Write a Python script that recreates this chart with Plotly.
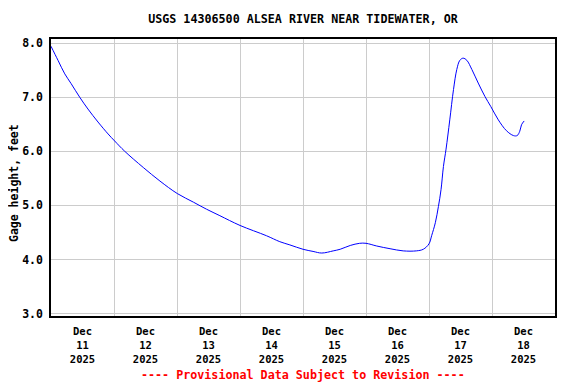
import plotly.graph_objects as go

# ---- data ----
times = [
    "2025-12-11 00:00", "2025-12-11 02:40", "2025-12-11 05:15", "2025-12-11 07:40",
    "2025-12-11 10:55", "2025-12-11 14:05", "2025-12-11 17:55", "2025-12-11 21:45",
    "2025-12-12 00:15", "2025-12-12 04:05", "2025-12-12 11:10", "2025-12-12 17:30",
    "2025-12-13 00:05", "2025-12-13 06:15", "2025-12-13 11:15", "2025-12-13 16:20",
    "2025-12-14 00:00", "2025-12-14 10:05", "2025-12-14 15:10", "2025-12-14 19:00",
    "2025-12-15 00:00", "2025-12-15 03:50", "2025-12-15 07:10", "2025-12-15 11:30",
    "2025-12-15 14:10", "2025-12-15 18:00", "2025-12-15 21:35",
    "2025-12-16 00:00", "2025-12-16 04:05", "2025-12-16 09:10", "2025-12-16 14:10",
    "2025-12-16 19:10", "2025-12-16 21:50",
    "2025-12-17 00:00", "2025-12-17 01:00", "2025-12-17 02:25", "2025-12-17 03:35",
    "2025-12-17 04:35", "2025-12-17 05:30", "2025-12-17 06:30", "2025-12-17 07:55",
    "2025-12-17 09:20", "2025-12-17 10:35", "2025-12-17 11:45", "2025-12-17 13:00",
    "2025-12-17 14:25", "2025-12-17 16:20", "2025-12-17 18:45", "2025-12-17 21:20",
    "2025-12-17 23:30",
    "2025-12-18 02:25", "2025-12-18 05:30", "2025-12-18 08:10", "2025-12-18 09:35",
    "2025-12-18 10:35", "2025-12-18 11:15", "2025-12-18 12:15",
]
gage_height = [
    7.94, 7.68, 7.43, 7.25,
    7.00, 6.78, 6.54, 6.32,
    6.19, 6.00, 5.70, 5.45,
    5.22, 5.06, 4.93, 4.81,
    4.63, 4.44, 4.33, 4.27,
    4.19, 4.15, 4.12, 4.16,
    4.19, 4.26, 4.30,
    4.30, 4.25, 4.20, 4.16,
    4.16, 4.19,
    4.29, 4.44, 4.68, 4.98,
    5.29, 5.72, 6.04, 6.58,
    7.14, 7.51, 7.68, 7.72,
    7.68, 7.51, 7.26, 7.01,
    6.83,
    6.58, 6.38, 6.29, 6.29,
    6.37, 6.49, 6.56,
]

label_times = ["2025-12-%02d 12:00" % d for d in range(11, 19)]
label_text = ["Dec<br>%d<br>2025" % d for d in range(11, 19)]
grid_times = ["2025-12-%02d 00:00" % d for d in range(12, 19)]
y_ticks = [3.0, 4.0, 5.0, 6.0, 7.0, 8.0]
y_tick_text = ["3.0", "4.0", "5.0", "6.0", "7.0", "8.0"]

title_text = "USGS 14306500 ALSEA RIVER NEAR TIDEWATER, OR"
y_title = "Gage height, feet"
footer = "---- Provisional Data Subject to Revision ----"

FONT = "DejaVu Sans Mono"
GRID = "#cccccc"

# the page body has an 8px default margin, so the figure is 8px smaller
W, H = 568, 376

fig = go.Figure()
fig.add_trace(go.Scatter(
    x=times, y=gage_height, mode="lines",
    line=dict(color="#0000ff", width=1, shape="spline", smoothing=1.0),
    hoverinfo="x+y", showlegend=False,
))

fig.update_layout(
    width=W, height=H,
    margin=dict(l=43, r=21, t=31, b=68),
    paper_bgcolor="white", plot_bgcolor="white",
    font=dict(family=FONT, size=11.5, color="black", weight="bold"),
    title=dict(text=title_text, x=295 / W, xanchor="center", xref="container",
               y=1 - 11 / H, yanchor="middle", yref="container",
               font=dict(family=FONT, size=11.7, color="black", weight="bold")),
    xaxis=dict(
        range=["2025-12-11 00:00", "2025-12-19 00:00"],
        tickmode="array", tickvals=label_times, ticktext=label_text,
        showgrid=False, ticks="", zeroline=False, automargin=False,
        tickfont=dict(family=FONT, size=10.5, color="black", weight="bold"),
        showline=True, linecolor="black", linewidth=1.5, mirror=True,
        minor=dict(tickmode="array", tickvals=grid_times, showgrid=True,
                   gridcolor=GRID, gridwidth=1, ticks=""),
        ticklabelstandoff=5,
    ),
    yaxis=dict(
        range=[2.957, 8.074],
        tickmode="array", tickvals=y_ticks, ticktext=y_tick_text,
        showgrid=True, gridcolor=GRID, gridwidth=1, ticks="", zeroline=False,
        automargin=False,
        tickfont=dict(family=FONT, size=11.5, color="black", weight="bold"),
        showline=True, linecolor="black", linewidth=1.5, mirror=True,
        ticklabelstandoff=4,
    ),
    annotations=[
        dict(text=y_title, xref="paper", yref="paper", x=(14 - 51) / 504,
             y=1 - (183 - 39) / 277, textangle=-90, showarrow=False,
             xanchor="center", yanchor="middle",
             font=dict(family=FONT, size=11.5, color="black", weight="bold")),
        dict(text=footer, xref="paper", yref="paper", x=0.5,
             y=-(375 - 316) / 277, showarrow=False,
             xanchor="center", yanchor="middle",
             font=dict(family=FONT, size=11.7, color="#ff0000", weight="bold")),
    ],
)

fig.write_html("out.html")
